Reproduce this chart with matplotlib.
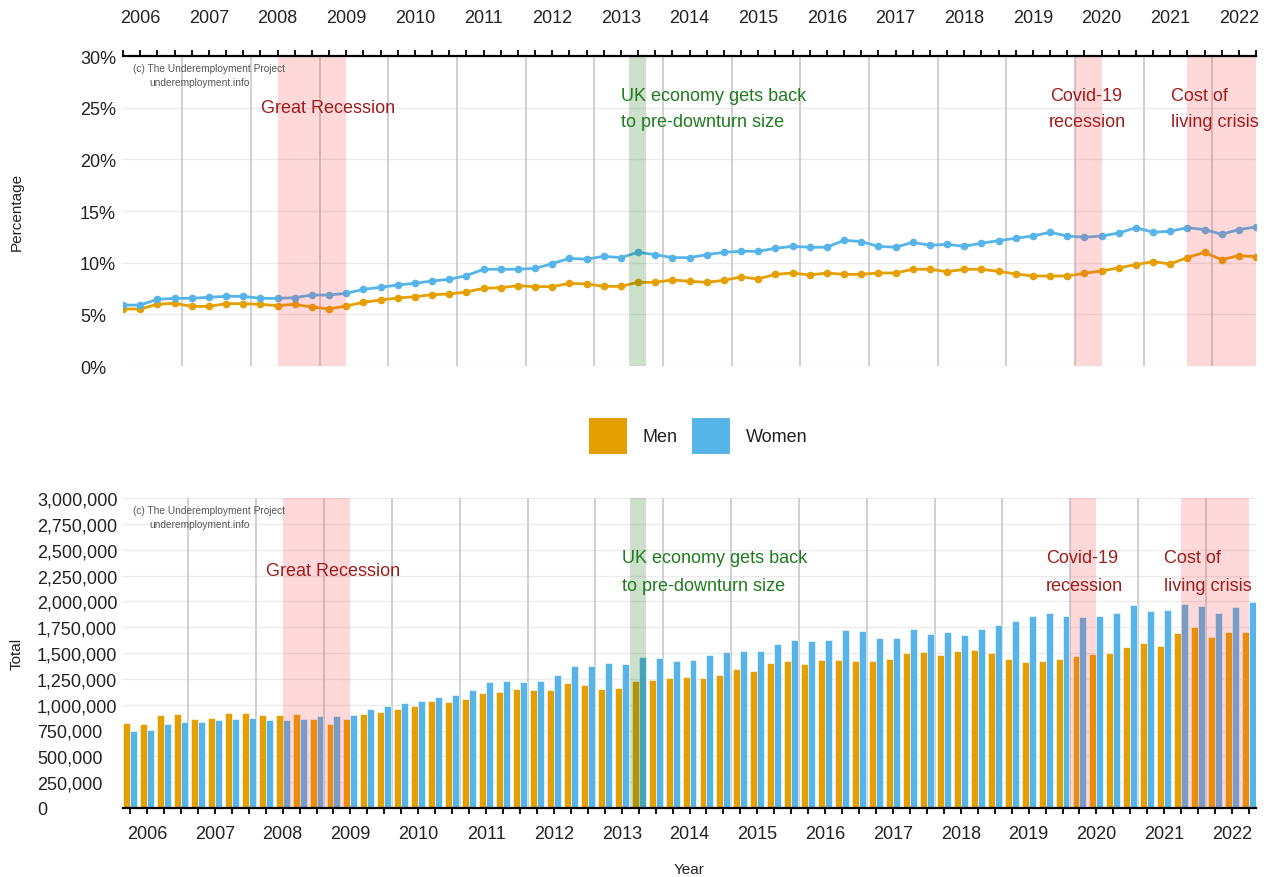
import matplotlib
matplotlib.use("Agg")
import matplotlib.pyplot as plt
from matplotlib.patches import Patch
from matplotlib.ticker import FuncFormatter

plt.rcParams['font.family'] = ['Liberation Sans', 'DejaVu Sans']

# ---------------- data ----------------
years = [str(y) for y in range(2006, 2023)]

men_pct = [5.52, 5.52, 5.97, 6.07, 5.77, 5.77, 6.03, 6.03, 5.97, 5.84,
           5.97, 5.71, 5.52, 5.81, 6.16, 6.39, 6.58, 6.71, 6.90, 6.97,
           7.16, 7.52, 7.58, 7.77, 7.68, 7.68, 8.00, 7.94, 7.71, 7.71,
           8.10, 8.10, 8.33, 8.20, 8.10, 8.29, 8.62, 8.42, 8.87, 9.00,
           8.81, 9.00, 8.87, 8.87, 9.00, 9.00, 9.36, 9.36, 9.13, 9.36,
           9.36, 9.16, 8.91, 8.71, 8.71, 8.71, 8.97, 9.20, 9.49, 9.81,
           10.10, 9.87, 10.49, 11.00, 10.29, 10.68, 10.58]

women_pct = [5.90, 5.90, 6.45, 6.55, 6.55, 6.65, 6.74, 6.74, 6.55, 6.55,
             6.61, 6.87, 6.87, 7.03, 7.42, 7.61, 7.84, 8.00, 8.23, 8.39,
             8.74, 9.36, 9.36, 9.36, 9.45, 9.90, 10.42, 10.33, 10.62, 10.49,
             11.00, 10.78, 10.49, 10.49, 10.78, 11.00, 11.10, 11.10, 11.39, 11.58,
             11.49, 11.49, 12.17, 12.04, 11.58, 11.49, 11.97, 11.68, 11.78, 11.58,
             11.88, 12.13, 12.36, 12.58, 12.94, 12.58, 12.46, 12.58, 12.87, 13.39,
             12.94, 13.04, 13.39, 13.20, 12.75, 13.20, 13.46]

men_total = [823, 813, 903, 913, 858, 868, 923, 923, 903, 897,
             913, 858, 813, 858, 913, 932, 958, 984, 1039, 1029,
             1055, 1110, 1126, 1155, 1145, 1145, 1210, 1190, 1155, 1165,
             1226, 1235, 1261, 1271, 1261, 1290, 1345, 1326, 1406, 1423,
             1397, 1432, 1432, 1423, 1423, 1442, 1503, 1513, 1477, 1523,
             1532, 1497, 1442, 1416, 1426, 1442, 1471, 1487, 1503, 1558,
             1594, 1568, 1694, 1755, 1658, 1703, 1703]
men_total = [v * 1000 for v in men_total]

women_total = [742, 752, 816, 829, 829, 848, 858, 868, 848, 848,
               858, 894, 887, 903, 955, 984, 1019, 1039, 1074, 1094,
               1145, 1216, 1226, 1216, 1226, 1290, 1377, 1377, 1406, 1397,
               1458, 1448, 1423, 1432, 1477, 1513, 1523, 1523, 1584, 1629,
               1613, 1623, 1719, 1710, 1648, 1648, 1729, 1684, 1703, 1674,
               1729, 1774, 1810, 1855, 1890, 1855, 1845, 1855, 1890, 1961,
               1906, 1916, 1971, 1952, 1890, 1945, 1997]
women_total = [v * 1000 for v in women_total]

# event periods (in quarter-index units)
recessions = [(9.0, 13.0), (55.45, 57.0), (62.0, 66.0)]
recovery = (29.47, 30.46)

# ---------------- style ----------------
C_MEN = '#E69F00'
C_WOMEN = '#56B4E9'
C_BAND = '#FF4045'
C_GREEN_BAND = '#006400'
C_RED_TXT = '#A01C1C'
C_GREEN_TXT = '#1E7B1E'
C_VLINE = '#C8C8C8'
C_GRID = '#EBEBEB'
FS_TICK = 13

n = len(men_pct)
idx = list(range(n))
year_lines = [3.45 + 4 * k for k in range(16)]
label_pos = [1 + 4 * k for k in range(len(years))]
tick_labels = [''] * n
for p, y in zip(label_pos, years):
    tick_labels[p] = y

W, H = 1266, 878
fig = plt.figure(figsize=(W / 100, H / 100), dpi=100)

def frac(l, t, r, b):
    return [l / W, 1 - b / H, (r - l) / W, (b - t) / H]

ax1 = fig.add_axes(frac(123, 57, 1256, 367))
ax2 = fig.add_axes(frac(123, 499, 1256, 809))

# ---------- top panel ----------
for v in range(0, 31, 5):
    ax1.axhline(v, color=C_GRID, lw=1.0, zorder=0)
for xl in year_lines:
    ax1.axvline(xl, color=C_VLINE, lw=1.2, zorder=1)
ax1.plot(idx, men_pct, color=C_MEN, lw=2.0, marker='o', ms=4.5, zorder=3)
ax1.plot(idx, women_pct, color=C_WOMEN, lw=2.0, marker='o', ms=4.5, zorder=3)
for a, b in recessions:
    ax1.axvspan(a, b, color=C_BAND, alpha=0.2, lw=0, zorder=4)
ax1.axvspan(*recovery, color=C_GREEN_BAND, alpha=0.2, lw=0, zorder=4)

ax1.set_xlim(0, 66)
ax1.set_ylim(0, 30)
ax1.xaxis.tick_top()
ax1.set_xticks(idx)
ax1.set_xticklabels(tick_labels, fontsize=FS_TICK, color='#222222')
ax1.tick_params(axis='x', direction='out', length=4.5, width=1.3, pad=17, colors='black', labelcolor='#222222')
ax1.set_yticks(range(0, 31, 5))
ax1.set_yticklabels([f'{v}%' for v in range(0, 31, 5)], fontsize=FS_TICK, color='#222222')
ax1.tick_params(axis='y', length=0, pad=31)
for lab in ax1.get_yticklabels():
    lab.set_horizontalalignment('left')
for s in ['left', 'right', 'bottom']:
    ax1.spines[s].set_visible(False)
ax1.spines['top'].set_linewidth(1.6)
ax1.spines['top'].set_zorder(6)
ax1.set_ylabel('Percentage', fontsize=11, color='#222222')
ax1.yaxis.set_label_coords(-99 / 1133, 0.5)

# top annotations
ax1.text(0.58, 28.85, '(c) The Underemployment Project', fontsize=7.3, color='#555555', va='center', zorder=6)
ax1.text(1.51, 27.5, 'underemployment.info', fontsize=7.3, color='#555555', va='center', zorder=6)
ax1.text(8.04, 24.97, 'Great Recession', fontsize=13, color=C_RED_TXT, va='center', zorder=6)
ax1.text(29.0, 26.2, 'UK economy gets back', fontsize=13, color=C_GREEN_TXT, va='center', zorder=6)
ax1.text(29.0, 23.7, 'to pre-downturn size', fontsize=13, color=C_GREEN_TXT, va='center', zorder=6)
ax1.text(56.09, 26.2, 'Covid-19', fontsize=13, color=C_RED_TXT, va='center', ha='center', zorder=6)
ax1.text(56.2, 23.7, 'recession', fontsize=13, color=C_RED_TXT, va='center', ha='center', zorder=6)
ax1.text(61.04, 26.2, 'Cost of', fontsize=13, color=C_RED_TXT, va='center', zorder=6)
ax1.text(61.04, 23.7, 'living crisis', fontsize=13, color=C_RED_TXT, va='center', zorder=6)

# ---------- bottom panel ----------
for v in range(0, 3000001, 250000):
    ax2.axhline(v, color=C_GRID, lw=1.0, zorder=0)
for xl in year_lines:
    ax2.axvline(xl, color=C_VLINE, lw=1.2, zorder=1)
bw = 0.41
ax2.bar([i - bw / 2 for i in idx], men_total, width=bw, color=C_MEN, edgecolor='white', linewidth=0.4, zorder=3)
ax2.bar([i + bw / 2 for i in idx], women_total, width=bw, color=C_WOMEN, edgecolor='white', linewidth=0.4, zorder=3)
for a, b in recessions:
    ax2.axvspan(a, b, color=C_BAND, alpha=0.2, lw=0, zorder=4)
ax2.axvspan(*recovery, color=C_GREEN_BAND, alpha=0.2, lw=0, zorder=4)

ax2.set_xlim(-0.413, 66.41)
ax2.set_ylim(0, 3000000)
ax2.set_xticks(idx)
ax2.set_xticklabels(tick_labels, fontsize=FS_TICK, color='#222222')
ax2.tick_params(axis='x', direction='out', length=4.5, width=1.3, pad=7.5, colors='black', labelcolor='#222222')
ax2.set_yticks(range(0, 3000001, 250000))
ax2.yaxis.set_major_formatter(FuncFormatter(lambda v, p: f'{int(v):,}'))
ax2.tick_params(axis='y', length=0, pad=62, labelsize=FS_TICK, labelcolor='#222222')
for lab in ax2.get_yticklabels():
    lab.set_horizontalalignment('left')
for s in ['left', 'right', 'top']:
    ax2.spines[s].set_visible(False)
ax2.spines['bottom'].set_linewidth(1.6)
ax2.spines['bottom'].set_zorder(6)
ax2.set_ylabel('Total', fontsize=11, color='#222222')
ax2.yaxis.set_label_coords(-99 / 1133, 0.5)
ax2.set_xlabel('Year', fontsize=11, color='#222222', labelpad=15)

ax2.text(0.18, 2884000, '(c) The Underemployment Project', fontsize=7.3, color='#555555', va='center', zorder=6)
ax2.text(1.12, 2748000, 'underemployment.info', fontsize=7.3, color='#555555', va='center', zorder=6)
ax2.text(8.02, 2294000, 'Great Recession', fontsize=13, color=C_RED_TXT, va='center', zorder=6)
ax2.text(29.03, 2429000, 'UK economy gets back', fontsize=13, color=C_GREEN_TXT, va='center', zorder=6)
ax2.text(29.03, 2158000, 'to pre-downturn size', fontsize=13, color=C_GREEN_TXT, va='center', zorder=6)
ax2.text(56.17, 2429000, 'Covid-19', fontsize=13, color=C_RED_TXT, va='center', ha='center', zorder=6)
ax2.text(56.28, 2158000, 'recession', fontsize=13, color=C_RED_TXT, va='center', ha='center', zorder=6)
ax2.text(61.0, 2429000, 'Cost of', fontsize=13, color=C_RED_TXT, va='center', zorder=6)
ax2.text(61.0, 2158000, 'living crisis', fontsize=13, color=C_RED_TXT, va='center', zorder=6)

# ---------- legend ----------
handles = [Patch(facecolor=C_MEN, edgecolor='none', label='Men'),
           Patch(facecolor=C_WOMEN, edgecolor='none', label='Women')]
fig.legend(handles=handles, loc='center', bbox_to_anchor=(698 / W, 1 - 437 / H), ncol=2,
           frameon=False, fontsize=13, handlelength=2.1, handleheight=2.7,
           handletextpad=0.85, columnspacing=0.85, labelcolor='#222222')

fig.savefig('out.png', dpi=100)
